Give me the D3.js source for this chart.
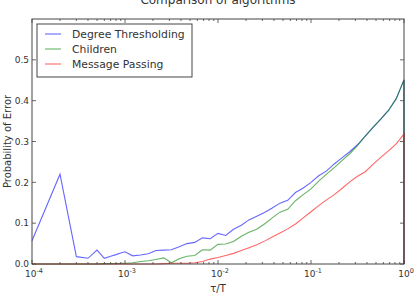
<!DOCTYPE html>
<html><head><meta charset="utf-8">
<script src="https://cdn.jsdelivr.net/npm/d3@7"></script>
<style>body{margin:0;background:#fff}svg{display:block}text{font-family:"DejaVu Sans",sans-serif;fill:#333}</style>
</head><body><svg id="c" width="416" height="297"></svg>
<script>
const title = "Comparison of algorithms";
const xLabel = "τ/T";
const yLabel = "Probability of Error";
const seriesNames = ["Degree Thresholding", "Children", "Message Passing"];
const seriesColors = ["rgba(0,0,255,0.6)", "rgba(0,128,0,0.6)", "rgba(255,0,0,0.6)"];
// tau/T sample points: 1e-4..9e-4, then 10^(-3 + k/12), then final point at 1
const tauT = [1e-4,2e-4,3e-4,4e-4,5e-4,6e-4,7e-4,8e-4,9e-4,
  0.001,0.00121,0.00147,0.00178,0.00215,0.00261,0.00316,0.00383,0.00464,0.00562,0.00681,0.00825,
  0.01,0.0121,0.0147,0.0178,0.0215,0.0261,0.0316,0.0383,0.0464,0.0562,0.0681,0.0825,
  0.1,0.121,0.147,0.178,0.215,0.261,0.316,0.383,0.464,0.562,0.681,0.825,1,1];
const degreeThresholding = [0.057,0.22,0.018,0.014,0.034,0.014,0.019,0.023,0.027,
  0.030,0.020,0.022,0.025,0.033,0.034,0.035,0.042,0.050,0.053,0.064,0.062,
  0.075,0.070,0.085,0.095,0.108,0.117,0.126,0.137,0.149,0.156,0.175,0.186,
  0.200,0.216,0.228,0.245,0.260,0.275,0.292,0.313,0.334,0.355,0.376,0.405,0.451,0];
const children = [0,0,0,0,0,0.001,0.001,0.001,0.002,
  0.002,0.003,0.006,0.008,0.011,0.015,0.003,0.013,0.019,0.021,0.035,0.034,
  0.048,0.049,0.055,0.068,0.078,0.085,0.098,0.113,0.127,0.134,0.155,0.170,
  0.184,0.203,0.220,0.236,0.253,0.270,0.290,0.313,0.335,0.355,0.376,0.405,0.451,0];
const messagePassing = [0,0,0,0,0,0,0,0,0,
  0,0,0,0,0,0.001,0.002,0.002,0.002,0.003,0.006,0.012,
  0.016,0.021,0.026,0.033,0.040,0.047,0.056,0.066,0.076,0.086,0.098,0.113,
  0.128,0.143,0.157,0.170,0.185,0.201,0.215,0.226,0.244,0.261,0.277,0.294,0.318,0];
const yTicks = [0.0,0.1,0.2,0.3,0.4,0.5];
const xTickExps = [-4,-3,-2,-1,0];

const svg = d3.select("#c");
const W = 416, H = 297, m = {l:32, r:12, t:19, b:33};
const x = d3.scaleLog().domain([1e-4, 1]).range([m.l, W - m.r]);
const y = d3.scaleLinear().domain([0, 0.6]).range([H - m.b, m.t]);
const axisCol = "#444";

// data lines
const series = [degreeThresholding, children, messagePassing];
const line = d3.line().x((d,i)=>x(tauT[i])).y(d=>y(d));
series.forEach((s,i)=>{
  svg.append("path").attr("d", line(s)).attr("fill","none")
    .attr("stroke", seriesColors[i]).attr("stroke-width",1.1);
});

// frame
svg.append("rect").attr("x",x(1e-4)).attr("y",y(0.6)).attr("width",x(1)-x(1e-4)).attr("height",y(0)-y(0.6))
  .attr("fill","none").attr("stroke",axisCol).attr("stroke-width",1);

// x ticks (major + minor), bottom and top, inward
const minor = [];
xTickExps.slice(0,-1).forEach(e=>{ for(let k=2;k<=9;k++) minor.push(k*Math.pow(10,e)); });
const g = svg.append("g").attr("stroke",axisCol).attr("stroke-width",0.8);
xTickExps.forEach(e=>{
  const xv = x(Math.pow(10,e));
  g.append("line").attr("x1",xv).attr("x2",xv).attr("y1",y(0)).attr("y2",y(0)-4);
  g.append("line").attr("x1",xv).attr("x2",xv).attr("y1",y(0.6)).attr("y2",y(0.6)+4);
});
minor.forEach(v=>{
  const xv = x(v);
  g.append("line").attr("x1",xv).attr("x2",xv).attr("y1",y(0)).attr("y2",y(0)-2);
  g.append("line").attr("x1",xv).attr("x2",xv).attr("y1",y(0.6)).attr("y2",y(0.6)+2);
});
yTicks.forEach(v=>{
  g.append("line").attr("x1",x(1e-4)).attr("x2",x(1e-4)+4).attr("y1",y(v)).attr("y2",y(v));
  g.append("line").attr("x1",x(1)).attr("x2",x(1)-4).attr("y1",y(v)).attr("y2",y(v));
});

// y tick labels
yTicks.forEach(v=>{
  svg.append("text").attr("x",x(1e-4)-3).attr("y",y(v)+3.2).attr("text-anchor","end")
    .attr("font-size",9).text(d3.format(".1f")(v));
});
// x tick labels
xTickExps.forEach(e=>{
  const t = svg.append("text").attr("x",x(Math.pow(10,e))+2).attr("y",y(0)+13).attr("text-anchor","middle").attr("font-size",9);
  t.append("tspan").text("10");
  t.append("tspan").attr("dy",-4).attr("font-size",6.5).text(e===0?"0":"-"+Math.abs(e));
});

// axis labels & title
svg.append("text").attr("x",(m.l+W-m.r)/2).attr("y",H-5).attr("text-anchor","middle").attr("font-size",10).text(xLabel);
svg.append("text").attr("transform",`translate(11,${(m.t+H-m.b)/2}) rotate(-90)`).attr("text-anchor","middle").attr("font-size",10).text(yLabel);
svg.append("text").attr("x",(m.l+W-m.r)/2).attr("y",4).attr("text-anchor","middle").attr("font-size",12).text(title);

// legend
const lg = svg.append("g");
lg.append("rect").attr("x",37).attr("y",24).attr("width",155).attr("height",53).attr("fill","#fff").attr("stroke",axisCol).attr("stroke-width",1);
seriesNames.forEach((n,i)=>{
  const yy = 34 + i*15;
  lg.append("line").attr("x1",45).attr("x2",61).attr("y1",yy).attr("y2",yy).attr("stroke",seriesColors[i]).attr("stroke-width",1.1);
  lg.append("text").attr("x",72).attr("y",yy+3.8).attr("font-size",10.8).text(n);
});
</script></body></html>
